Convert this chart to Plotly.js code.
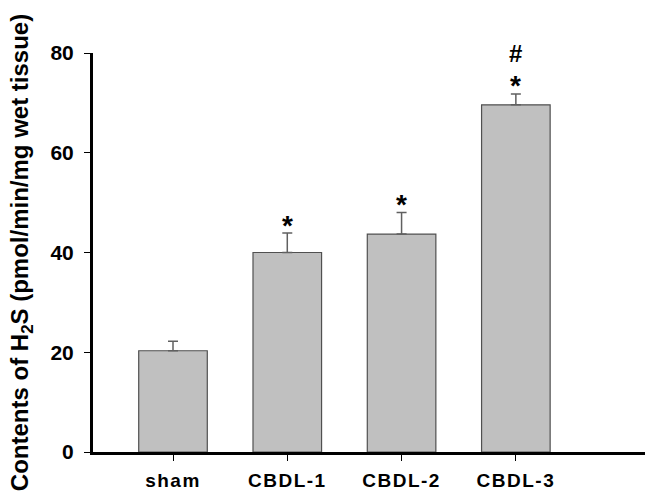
<!DOCTYPE html>
<html>
<head>
<meta charset="utf-8">
<script src="https://cdn.plot.ly/plotly-3.0.1.min.js"></script>
<style>
  html, body { margin: 0; padding: 0; background: #fff; }
  #chart { width: 653px; height: 504px; }
  #chart .xtick text { letter-spacing: 1.5px; }
</style>
</head>
<body>
<div id="chart"></div>
<script>
// 組別與數值
const groups = ['sham', 'CBDL-1', 'CBDL-2', 'CBDL-3'];
const means = [20.3, 40.0, 43.7, 69.6];
const sems = [1.9, 3.9, 4.3, 2.2];
// 顯著性標記
const starMarks = ['', '*', '*', '*'];
const hashMarks = ['', '', '', '#'];

const font = { family: 'Liberation Sans, Arial, sans-serif', color: '#000', weight: 'bold' };

const trace = {
  type: 'bar',
  x: groups,
  y: means,
  width: 0.6,
  marker: { color: '#c0c0c0', line: { color: '#505050', width: 1.2 } },
  error_y: {
    type: 'data',
    array: sems,
    arrayminus: means.map(() => 0),
    symmetric: false,
    color: '#606060',
    thickness: 1.5,
    width: 5
  },
  hoverinfo: 'x+y'
};

// 星號 / 井號標註
const annotations = [];
groups.forEach((g, i) => {
  const top = means[i] + sems[i];
  if (starMarks[i]) {
    annotations.push({
      x: g, y: top, xref: 'x', yref: 'y',
      text: starMarks[i], showarrow: false,
      yanchor: 'middle', yshift: 8,
      font: Object.assign({}, font, { size: 28 })
    });
  }
  if (hashMarks[i]) {
    annotations.push({
      x: g, y: top, xref: 'x', yref: 'y',
      text: hashMarks[i], showarrow: false,
      yanchor: 'middle', yshift: 40,
      font: Object.assign({}, font, { size: 24 })
    });
  }
});

const layout = {
  width: 653,
  height: 504,
  margin: { l: 93, r: 8, t: 53, b: 52 },
  paper_bgcolor: '#fff',
  plot_bgcolor: '#fff',
  showlegend: false,
  font: font,
  xaxis: {
    type: 'category',
    range: [-0.7, 4.13],
    showline: true,
    linecolor: '#000',
    linewidth: 3,
    ticks: 'outside',
    ticklen: 6,
    tickwidth: 1,
    tickcolor: '#000',
    showgrid: false,
    zeroline: false,
    ticklabelstandoff: 3,
    tickfont: Object.assign({}, font, { size: 19 }),
    fixedrange: true
  },
  yaxis: {
    range: [0, 80],
    tickvals: [0, 20, 40, 60, 80],
    showline: true,
    linecolor: '#000',
    linewidth: 3,
    ticks: 'outside',
    ticklen: 6,
    tickwidth: 1,
    tickcolor: '#000',
    showgrid: false,
    zeroline: false,
    ticklabelstandoff: 6,
    tickfont: Object.assign({}, font, { size: 21 }),
    title: {
      text: 'Contents of H<sub>2</sub>S (pmol/min/mg wet tissue)',
      font: Object.assign({}, font, { size: 24 }),
      standoff: 16
    },
    fixedrange: true
  },
  annotations: annotations
};

Plotly.newPlot('chart', [trace], layout, { displayModeBar: false, staticPlot: true });
</script>
</body>
</html>
